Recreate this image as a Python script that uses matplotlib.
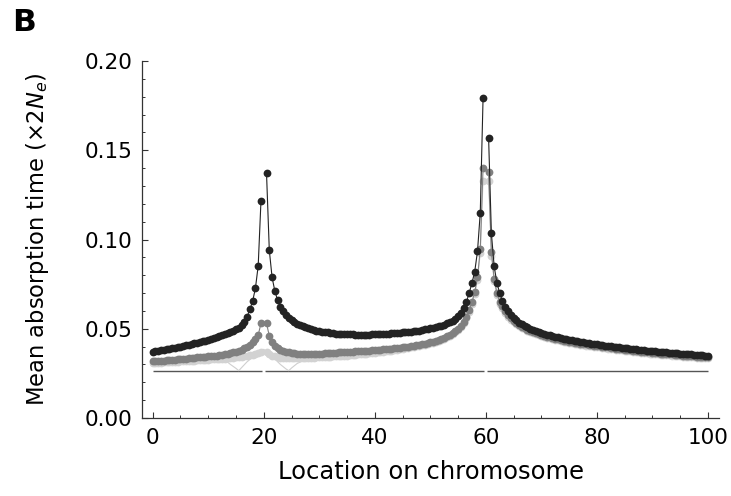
import numpy as np
import matplotlib.pyplot as plt
from matplotlib.ticker import MultipleLocator, FormatStrFormatter

# ---------------- data ----------------
# three chromosome segments, points every 0.5 units
seg_starts = [0.0, 20.5, 60.5]
step = 0.5

black_left = [.0372, .0375, .0377, .0380, .0382, .0385, .0388, .0391, .0394, .0397,
              .0400, .0403, .0407, .0410, .0414, .0418, .0422, .0426, .0430, .0434,
              .0439, .0443, .0448, .0453, .0458, .0463, .0469, .0475, .0482, .0489,
              .0497, .0507, .0520, .0540, .0568, .0608, .0655, .0727, .0853, .1217]
black_mid = [.1370, .0940, .0788, .0711, .0660, .0624, .0598, .0578, .0562, .0549,
             .0538, .0529, .0521, .0514, .0508, .0503, .0498, .0494, .0490, .0487,
             .0484, .0481, .0479, .0477, .0475, .0473, .0472, .0471, .0470, .0469,
             .0468, .0468, .0467, .0467, .0467, .0467, .0467, .0467, .0468, .0468,
             .0469, .0470, .0471, .0472, .0473, .0474, .0475, .0476, .0478, .0479,
             .0480, .0482, .0484, .0486, .0488, .0490, .0493, .0496, .0499, .0503,
             .0506, .0510, .0514, .0518, .0523, .0530, .0537, .0546, .0557, .0570,
             .0590, .0615, .0650, .0700, .0756, .0820, .0934, .1150, .1790]
black_right = [.1570, .1035, .0850, .0756, .0700, .0655, .0622, .0597, .0577, .0560,
               .0547, .0535, .0525, .0516, .0508, .0501, .0494, .0488, .0482, .0477,
               .0472, .0467, .0463, .0459, .0455, .0451, .0448, .0444, .0441, .0438,
               .0435, .0432, .0429, .0427, .0424, .0422, .0419, .0417, .0415, .0413,
               .0410, .0408, .0406, .0404, .0402, .0400, .0398, .0396, .0394, .0392,
               .0390, .0388, .0386, .0384, .0383, .0381, .0379, .0378, .0376, .0375,
               .0373, .0372, .0370, .0369, .0367, .0366, .0365, .0363, .0362, .0361,
               .0359, .0358, .0357, .0356, .0354, .0353, .0352, .0351, .0350, .0349]

gray_left = [.0318, .0319, .0320, .0321, .0322, .0323, .0325, .0326, .0327, .0328,
             .0330, .0331, .0333, .0334, .0336, .0337, .0339, .0340, .0342, .0343,
             .0345, .0347, .0348, .0350, .0352, .0354, .0357, .0360, .0363, .0367,
             .0371, .0376, .0382, .0390, .0400, .0411, .0425, .0442, .0465, .0530]
gray_mid = [.0530, .0460, .0425, .0405, .0392, .0383, .0376, .0371, .0367, .0364,
            .0362, .0360, .0359, .0358, .0358, .0358, .0358, .0358, .0359, .0360,
            .0361, .0362, .0363, .0364, .0365, .0366, .0367, .0368, .0369, .0370,
            .0371, .0372, .0373, .0374, .0375, .0376, .0377, .0378, .0379, .0380,
            .0381, .0382, .0384, .0385, .0387, .0388, .0390, .0392, .0394, .0396,
            .0398, .0400, .0402, .0405, .0407, .0410, .0413, .0416, .0419, .0423,
            .0427, .0432, .0437, .0443, .0450, .0457, .0465, .0475, .0486, .0500,
            .0516, .0537, .0565, .0605, .0650, .0706, .0788, .0945, .1400]
gray_right = [.1376, .0932, .0780, .0700, .0650, .0625, .0597, .0576, .0559, .0545,
              .0533, .0522, .0512, .0503, .0495, .0488, .0482, .0476, .0470, .0465,
              .0460, .0456, .0452, .0448, .0444, .0441, .0437, .0434, .0431, .0428,
              .0425, .0422, .0419, .0417, .0414, .0412, .0409, .0407, .0405, .0403,
              .0401, .0399, .0397, .0395, .0393, .0391, .0389, .0387, .0385, .0383,
              .0381, .0379, .0377, .0375, .0374, .0372, .0370, .0369, .0367, .0366,
              .0364, .0363, .0361, .0360, .0358, .0357, .0356, .0354, .0353, .0352,
              .0350, .0349, .0348, .0347, .0345, .0344, .0343, .0342, .0341, .0340]

light_left = [.0307, .0308, .0309, .0310, .0311, .0312, .0313, .0314, .0315, .0316,
              .0317, .0318, .0319, .0320, .0321, .0322, .0323, .0324, .0325, .0326,
              .0327, .0328, .0329, .0330, .0331, .0332, .0333, .0334, .0336, .0337,
              .0339, .0341, .0343, .0345, .0348, .0351, .0354, .0358, .0363, .0370]
light_mid = [.0370, .0358, .0350, .0345, .0341, .0338, .0336, .0335, .0334, .0334,
             .0334, .0334, .0334, .0335, .0335, .0336, .0337, .0338, .0339, .0340,
             .0341, .0342, .0343, .0344, .0345, .0346, .0347, .0348, .0349, .0350,
             .0352, .0353, .0354, .0356, .0357, .0359, .0360, .0362, .0364, .0366,
             .0368, .0370, .0372, .0374, .0376, .0378, .0380, .0382, .0385, .0387,
             .0390, .0392, .0395, .0398, .0401, .0404, .0407, .0411, .0414, .0418,
             .0422, .0427, .0432, .0438, .0445, .0452, .0460, .0470, .0481, .0495,
             .0511, .0532, .0558, .0596, .0640, .0695, .0775, .0925, .1330]
light_right = [.1330, .0910, .0765, .0690, .0640, .0615, .0588, .0568, .0551, .0538,
               .0526, .0515, .0505, .0497, .0489, .0482, .0476, .0470, .0464, .0459,
               .0454, .0450, .0446, .0442, .0438, .0435, .0431, .0428, .0425, .0422,
               .0419, .0416, .0413, .0411, .0408, .0406, .0403, .0401, .0399, .0397,
               .0395, .0393, .0391, .0389, .0387, .0385, .0383, .0381, .0379, .0377,
               .0375, .0373, .0371, .0369, .0368, .0366, .0364, .0363, .0361, .0360,
               .0358, .0357, .0355, .0354, .0352, .0351, .0350, .0348, .0347, .0346,
               .0344, .0343, .0342, .0341, .0339, .0338, .0337, .0336, .0335, .0334]

# thin light curve with the two dips around the first breakpoint
thin_x = [12, 13, 14, 15, 15.5, 16, 17, 18, 19, 19.5, 20, 20.5, 21, 22, 23, 24, 24.5, 25, 26, 27, 28]
thin_y = [.0331, .0325, .0300, .0278, .0265, .0282, .0315, .0340, .0360, .0370, .0385,
          .0370, .0355, .0330, .0300, .0275, .0265, .0280, .0305, .0320, .0330]

# chromosome segments (drawn as a line under the data)
chrom_level = 0.0263
chrom_starts = [0.0, 20.3, 60.3]
chrom_ends = [19.7, 59.7, 100.0]

xticks = [0, 20, 40, 60, 80, 100]
yticks = [0.00, 0.05, 0.10, 0.15, 0.20]

# ---------------- figure ----------------
W, H = 731, 496
fig = plt.figure(figsize=(W / 100, H / 100), dpi=100)
ax = fig.add_axes([142 / W, 1 - 418 / H, (719 - 142) / W, (418 - 61) / H])

ax.hlines([chrom_level] * 3, chrom_starts, chrom_ends, colors='#555555', lw=1.0, zorder=1)

ax.plot(thin_x, thin_y, '-', color='#cfcfcf', lw=0.8, zorder=2)

series = [
    ([light_left, light_mid, light_right], '#d2d2d2', 3),
    ([gray_left, gray_mid, gray_right], '#808080', 4),
    ([black_left, black_mid, black_right], '#232323', 5),
]
for segs, col, z in series:
    for start, vals in zip(seg_starts, segs):
        x = start + step * np.arange(len(vals))
        ax.plot(x, vals, '-', color=col, lw=0.8, zorder=z)
        ax.plot(x, vals, 'o', color=col, ms=5.6, mew=0, zorder=z)

ax.set_xlim(-1.93, 102.0)
ax.set_ylim(0, 0.2)
for s in ['top', 'right']:
    ax.spines[s].set_visible(False)
for s in ['left', 'bottom']:
    ax.spines[s].set_linewidth(0.9)
    ax.spines[s].set_color('#333333')

ax.set_xticks(xticks)
ax.set_yticks(yticks)
ax.xaxis.set_minor_locator(MultipleLocator(5))
ax.yaxis.set_minor_locator(MultipleLocator(0.01))
ax.yaxis.set_major_formatter(FormatStrFormatter('%.2f'))
ax.tick_params(which='major', direction='in', length=4.3, width=0.8, color='#333333',
               labelsize=15.5, pad=7)
ax.tick_params(which='minor', direction='in', length=2.2, width=0.7, color='#333333')

ax.set_xlabel('Location on chromosome', fontsize=17.5, labelpad=9)
ax.set_ylabel(r'Mean absorption time ($\times$2$N_e$)', fontsize=16.3, labelpad=24)

fig.text(12 / W, 1 - 8 / H, 'B', fontsize=22.5, fontweight='bold', va='top', ha='left')

fig.savefig('out.png', dpi=100)
